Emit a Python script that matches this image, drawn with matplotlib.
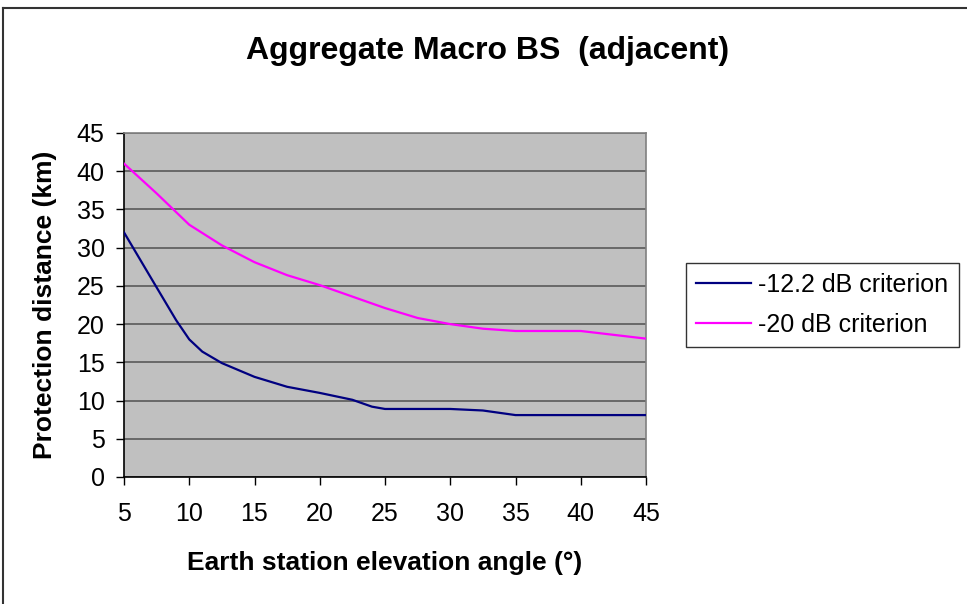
import matplotlib
matplotlib.use("Agg")
import matplotlib.pyplot as plt
from matplotlib.lines import Line2D

plt.rcParams['font.family'] = ['Liberation Sans', 'DejaVu Sans']

# Elevation angle (deg) and protection distance (km) per criterion
angle_12 = [5, 7.5, 9, 10, 11, 12.5, 15, 17.5, 20, 22.5, 24, 25, 30, 32.5, 35, 40, 45]
dist_12 = [32, 24.8, 20.5, 18.0, 16.4, 14.9, 13.1, 11.8, 11.0, 10.1, 9.2, 8.9, 8.9, 8.7, 8.1, 8.1, 8.1]

angle_20 = [5, 7.5, 10, 12.5, 15, 17.5, 20, 22.5, 25, 27.5, 30, 32.5, 35, 40, 45]
dist_20 = [41, 37.1, 33.0, 30.3, 28.1, 26.4, 25.1, 23.6, 22.1, 20.8, 20.0, 19.4, 19.1, 19.1, 18.1]

series_labels = ["-12.2 dB criterion", "-20 dB criterion"]
x_ticks = [5, 10, 15, 20, 25, 30, 35, 40, 45]
y_ticks = [0, 5, 10, 15, 20, 25, 30, 35, 40, 45]

W, H = 967, 604
fig = plt.figure(figsize=(W / 100, H / 100), dpi=100)
fig.patch.set_facecolor("white")

# outer chart frame (top and left edges)
fig.add_artist(Line2D([3 / W, 1.0], [1 - 8 / H, 1 - 8 / H], transform=fig.transFigure,
                      color="#333333", lw=1.5))
fig.add_artist(Line2D([3 / W, 3 / W], [0.0, 1 - 8 / H], transform=fig.transFigure,
                      color="#333333", lw=1.5))

left, right, top, bottom = 124, 646, 133, 477
ax = fig.add_axes([left / W, 1 - bottom / H, (right - left) / W, (bottom - top) / H])
ax.set_facecolor("#C0C0C0")

ax.plot(angle_12, dist_12, color="#000080", lw=1.6, label=series_labels[0], zorder=3)
ax.plot(angle_20, dist_20, color="#FF00FF", lw=1.6, label=series_labels[1], zorder=3)

ax.set_xlim(5, 45)
ax.set_ylim(0, 45)
ax.set_xticks(x_ticks)
ax.set_yticks(y_ticks)
ax.yaxis.grid(True, color="#505050", lw=1.1)
ax.set_axisbelow(True)

for s in ("top", "right"):
    ax.spines[s].set_color("#808080")
    ax.spines[s].set_linewidth(1.2)
for s in ("left", "bottom"):
    ax.spines[s].set_color("black")
    ax.spines[s].set_linewidth(1.2)

ax.tick_params(axis="both", direction="out", length=6, width=1.0, color="black",
               labelsize=18)
ax.tick_params(axis="x", pad=12)
ax.tick_params(axis="y", pad=8)

ax.set_xlabel("Earth station elevation angle (°)", fontsize=19, fontweight="bold",
              labelpad=18)
ax.set_ylabel("Protection distance (km)", fontsize=19, fontweight="bold", labelpad=14)

fig.text(488 / W, 1 - 51 / H, "Aggregate Macro BS  (adjacent)", fontsize=23,
         fontweight="bold", ha="center", va="center")

leg = ax.legend(loc="center left", bbox_to_anchor=(686 / W, 1 - 305 / H),
                bbox_transform=fig.transFigure, fontsize=18, frameon=True,
                fancybox=False, shadow=False, handlelength=2.2, handletextpad=0.3,
                labelspacing=0.65, borderpad=0.4, borderaxespad=0)
leg.get_frame().set_edgecolor("black")
leg.get_frame().set_linewidth(1.0)

fig.savefig("out.png", dpi=100)
